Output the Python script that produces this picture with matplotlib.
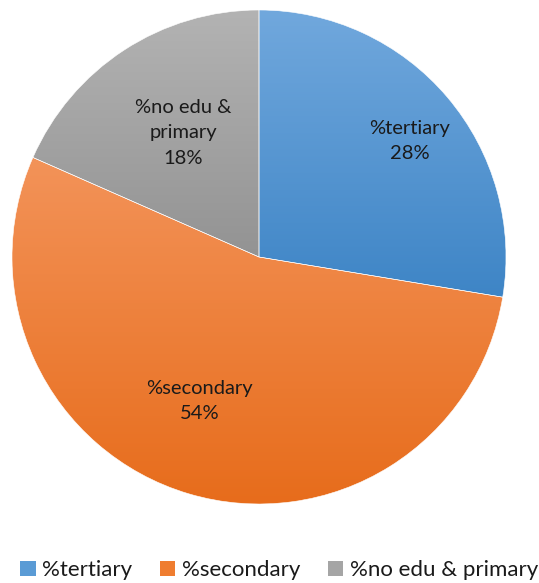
import numpy as np
import matplotlib
matplotlib.use("Agg")
import matplotlib.pyplot as plt
from matplotlib.patches import Patch
from matplotlib.colors import LinearSegmentedColormap

categories = ["%tertiary", "%secondary", "%no edu & primary"]
shares = [27.6, 54.0, 18.4]
top_colors = ["#71a8dd", "#f39359", "#b3b3b3"]
bottom_colors = ["#3e85c6", "#e76c1b", "#939393"]
legend_colors = ["#5a9bd5", "#ef7d30", "#a5a5a5"]

W, H = 539, 583
fig = plt.figure(figsize=(W / 100, H / 100), dpi=100)
ax = fig.add_axes([0, 0, 1, 1])

cx, cy, R = 259, H - 257, 247
wedges, _ = ax.pie(shares, startangle=90, counterclock=False,
                   center=(cx, cy), radius=R, frame=True,
                   wedgeprops=dict(linewidth=0.4, edgecolor="white"))
ax.set_aspect("equal")
ax.axis("off")

# vertical gradient fill per wedge
for w, c0, c1 in zip(wedges, top_colors, bottom_colors):
    verts = w.get_path().vertices
    y0, y1 = verts[:, 1].min(), verts[:, 1].max()
    x0, x1 = verts[:, 0].min(), verts[:, 0].max()
    cmap = LinearSegmentedColormap.from_list("g", [c1, c0])
    grad = np.linspace(0, 1, 256).reshape(-1, 1)
    im = ax.imshow(grad, cmap=cmap, origin="lower", aspect="auto",
                   extent=[x0, x1, y0, y1], zorder=w.get_zorder() - 0.1,
                   interpolation="bilinear")
    im.set_clip_path(w)
    w.set_facecolor("none")

ax.set_xlim(0, W)
ax.set_ylim(0, H)

# data labels
label_font = dict(family="Lato", fontsize=14.5, color="#1a1a1a")
place = [(0.77, -2.8), (0.63, -6.0), (0.59, -1.7)]
for w, name, v, (rf, dth) in zip(wedges, categories, shares, place):
    mid = np.deg2rad((w.theta1 + w.theta2) / 2 + dth)
    tx = cx + rf * R * np.cos(mid)
    ty = cy + rf * R * np.sin(mid)
    txt = name.replace("& ", "&\n") if "edu" in name else name
    ax.text(tx, ty, f"{txt}\n{round(v)}%", ha="center", va="center",
            linespacing=1.6, **label_font)

handles = [Patch(facecolor=c, edgecolor="none") for c in legend_colors]
leg = fig.legend(handles, categories, loc="lower center", ncol=3,
                 bbox_to_anchor=(0.518, -0.03), frameon=False,
                 prop=dict(family="Lato", size=16), handlelength=0.7,
                 handleheight=0.7, handletextpad=0.3, columnspacing=1.23,
                 labelcolor="#1a1a1a")

fig.savefig("out.png", dpi=100, facecolor="white")
